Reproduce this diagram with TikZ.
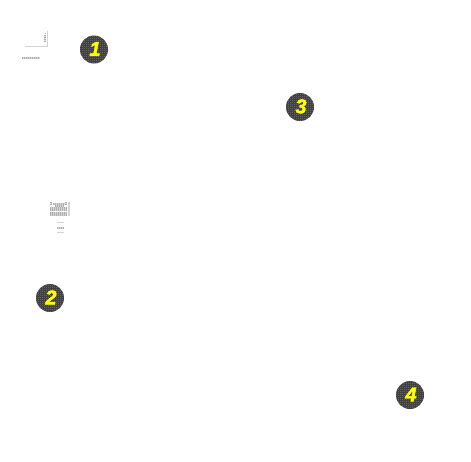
\documentclass[tikz,border=0pt]{standalone}
\usepackage{fontspec}
\usetikzlibrary{patterns}
\newfontfamily\badgefont{Liberation Sans}[BoldItalicFeatures={FakeBold=2.2}]
\definecolor{badgefill}{HTML}{3A3A3A}
\definecolor{badgecheck}{HTML}{777777}
\definecolor{badgetext}{HTML}{FFFF00}
\definecolor{faint}{HTML}{D4D4D4}
\definecolor{dots}{HTML}{B0B0B0}
\pgfdeclarepatternformonly{pixelcheck}{\pgfqpoint{0pt}{0pt}}{\pgfqpoint{2pt}{2pt}}{\pgfqpoint{2pt}{2pt}}{%
  \pgfpathrectangle{\pgfqpoint{0pt}{0pt}}{\pgfqpoint{1pt}{1pt}}%
  \pgfpathrectangle{\pgfqpoint{1pt}{1pt}}{\pgfqpoint{1pt}{1pt}}%
  \pgfusepath{fill}}
\tikzset{
  x=1pt,y=-1pt,
  badge/.style={circle,fill=badgefill,minimum size=28pt,inner sep=0pt},
  check/.style={pattern=pixelcheck,pattern color=badgecheck},
  digit/.style={text=badgetext,inner sep=0pt,font=\badgefont\bfseries\itshape\fontsize{20}{20}\selectfont},
  rule/.style={draw=faint,line width=1.2pt},
  softline/.style={draw=faint,line width=1.6pt},
  dith/.style={draw=faint,line width=2pt,postaction={draw=dots,line width=2pt,dash pattern=on 1pt off 1pt}},
  dithwide/.style={draw=faint,line width=3.6pt,postaction={draw=dots,line width=3.6pt,dash pattern=on 1pt off 1pt}},
}
\begin{document}
\begin{tikzpicture}
\useasboundingbox (0,0) rectangle (471,461);
\foreach \nm/\px/\py/\num in {one/94/49.5/1,two/50/298/2,three/300/107/3,four/410/395/4}{
  \node[badge] (\nm) at (\px,\py) {};
  \fill[check] (\nm) circle[radius=14pt];
  \node[digit] at ([xshift=1pt,yshift=0.6pt]\nm.center) {\num};
}
\draw[rule] (25,46.5) -- (47.5,46.5) -- (47.5,31);
\draw[dith] (45,35) -- (45,42);
\fill[dots] (44.5,33) rectangle (45.5,34);
\draw[dith] (22,58) -- (40,58);
\draw[dith] (51,202) -- (51,205);
\draw[dith] (53,203.5) -- (65,203.5);
\draw[dith] (66,202) -- (66,205);
\draw[dith] (55,206) -- (64,206);
\draw[dithwide] (50,208.8) -- (67,208.8);
\draw[dithwide] (50,213.8) -- (67,213.8);
\draw[draw=faint,line width=2pt] (69,202) -- (69,216);
\draw[softline] (57,222.5) -- (64,222.5);
\draw[dith] (57,227.5) -- (64,227.5);
\draw[softline] (57,232.5) -- (64,232.5);
\end{tikzpicture}
\end{document}
